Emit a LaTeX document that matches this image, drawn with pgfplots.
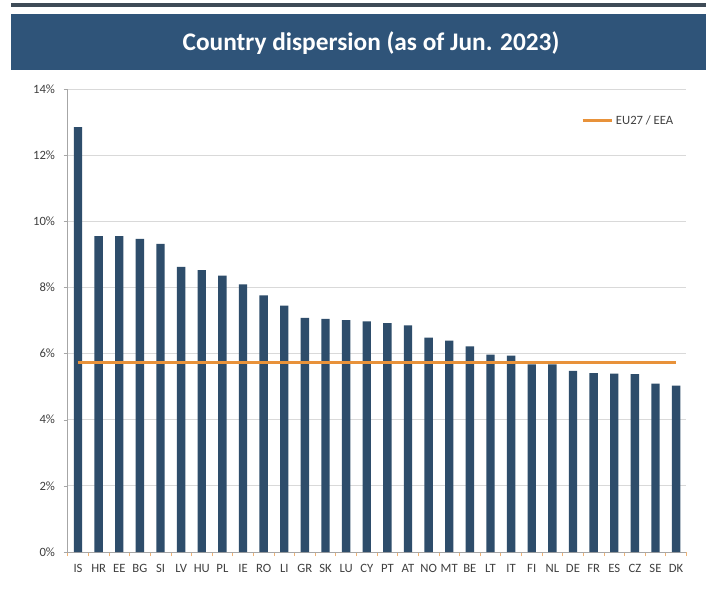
\documentclass[border=0pt]{standalone}
\usepackage{pgfplots}
\pgfplotsset{compat=1.18}
\usepackage{pgfplotstable}
\usepackage{fontspec}
\setmainfont{Carlito}
\definecolor{barblue}{HTML}{2E4D6B}
\definecolor{banner}{HTML}{2F5479}
\definecolor{topline}{HTML}{3E4B57}
\definecolor{eu}{HTML}{E8923A}
\definecolor{gridgray}{HTML}{D9D9D9}
\definecolor{txtgray}{HTML}{404040}
\pgfplotstableread{
x y
0 12.85
1 9.55
2 9.55
3 9.47
4 9.32
5 8.62
6 8.52
7 8.36
8 8.09
9 7.76
10 7.45
11 7.08
12 7.05
13 7.01
14 6.97
15 6.92
16 6.85
17 6.48
18 6.39
19 6.22
20 5.97
21 5.94
22 5.67
23 5.67
24 5.48
25 5.41
26 5.39
27 5.38
28 5.09
29 5.03
}\disp
\pgfplotstableread{
x y
0 5.74
29 5.74
}\eu
\begin{document}
\begin{tikzpicture}
\begin{scope}[x=0.75pt,y=-0.75pt]
\useasboundingbox (0,0) rectangle (706,599);
\fill[white] (0,0) rectangle (706,599);
\fill[topline] (11,3) rectangle (706,7);
\fill[banner] (11,14) rectangle (706,70);
\node[text=white,font=\fontsize{19}{21}\selectfont\bfseries] at (371,43) {Country dispersion (as of Jun. 2023)};
\end{scope}
\begin{axis}[
  at={(50.8pt,-414pt)}, anchor=south west,
  scale only axis, width=464pt, height=347.25pt,
  xmin=-0.5, xmax=29.5, ymin=0, ymax=14,
  axis x line*=bottom, axis y line*=left,
  axis line style={draw=gray!70},
  ymajorgrids, grid style={gridgray, line width=0.6pt},
  ytick={0,2,...,14},
  yticklabel={\pgfmathprintnumber{\tick}\%},
  /pgf/number format/assume math mode=true,
  xtick={0,...,29},
  xticklabels={IS,HR,EE,BG,SI,LV,HU,PL,IE,RO,LI,GR,SK,LU,CY,PT,AT,NO,MT,BE,LT,IT,FI,NL,DE,FR,ES,CZ,SE,DK},
  x tick style={draw=none},
  minor xtick={-0.5,0.5,...,29.5},
  minor x tick style={draw=eu!70, line width=0.5pt},
  minor tick length=3pt,
  y tick style={draw=gray!70},
  major tick length=3pt,
  tick align=outside,
  ticklabel style={font=\fontsize{9.5}{11}\selectfont, text=txtgray},
  yticklabel style={xshift=-3pt},
  xticklabel style={yshift=-3pt},
  legend style={at={(0.99,0.955)}, anchor=north east, draw=none, fill=none,
    font=\fontsize{9.5}{11}\selectfont, text=txtgray},
  legend image code/.code={\draw[#1] (0pt,0pt) -- (22pt,0pt);},
]
\addplot[ybar, bar width=6.3pt, fill=barblue, draw=none, forget plot] table[x=x,y=y] {\disp};
\addplot[eu, line width=2pt] table[x=x,y=y] {\eu};
\addlegendentry{EU27 / EEA}
\end{axis}
\end{tikzpicture}
\end{document}
